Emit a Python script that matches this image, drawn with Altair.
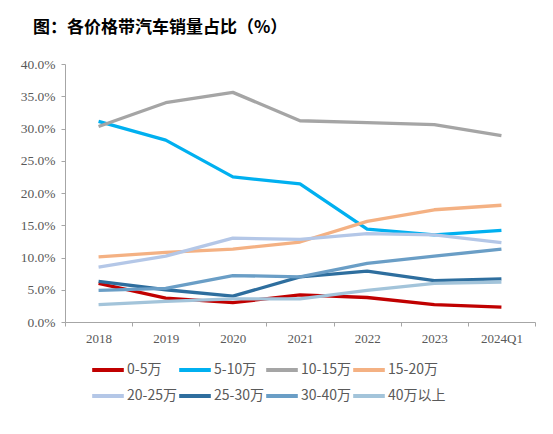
import altair as alt
import pandas as pd

years = ["2018", "2019", "2020", "2021", "2022", "2023", "2024Q1"]
series_names = ["0-5万", "5-10万", "10-15万", "15-20万", "20-25万", "25-30万", "30-40万", "40万以上"]
colors = ["#C00000", "#00B0F0", "#A5A5A5", "#F4B183", "#B4C7E7", "#2E6E9E", "#6A9EC6", "#A3C4DA"]

v_0_5 = [6.0, 3.7, 3.0, 4.2, 3.8, 2.7, 2.3]
v_5_10 = [31.1, 28.2, 22.5, 21.4, 14.4, 13.5, 14.2]
v_10_15 = [30.3, 34.0, 35.6, 31.2, 30.9, 30.6, 28.9]
v_15_20 = [10.1, 10.8, 11.3, 12.4, 15.6, 17.4, 18.1]
v_20_25 = [8.5, 10.2, 13.0, 12.8, 13.7, 13.5, 12.3]
v_25_30 = [6.3, 5.0, 4.0, 7.0, 7.9, 6.4, 6.7]
v_30_40 = [4.9, 5.2, 7.2, 7.0, 9.1, 10.2, 11.3]
v_40plus = [2.7, 3.2, 3.6, 3.6, 4.9, 6.0, 6.2]

all_values = [v_0_5, v_5_10, v_10_15, v_15_20, v_20_25, v_25_30, v_30_40, v_40plus]

rows = []
for name, vals in zip(series_names, all_values):
    for y, v in zip(years, vals):
        rows.append({"year": y, "series": name, "value": v / 100})
df = pd.DataFrame(rows)

chart = alt.Chart(df).mark_line(strokeWidth=3.3, strokeJoin="round").encode(
    x=alt.X("year:N", sort=years, bandPosition=0.5,
            scale=alt.Scale(type="band", paddingInner=0, paddingOuter=0),
            axis=alt.Axis(title=None, labelAngle=0, tickBand="extent", domainColor="#A6A6A6",
                          tickColor="#A6A6A6", tickSize=4, labelFont="Liberation Serif",
                          labelFontSize=13, labelColor="#595959", labelPadding=6, grid=False)),
    y=alt.Y("value:Q", scale=alt.Scale(domain=[0, 0.4], nice=False),
            axis=alt.Axis(title=None, format=".1%", values=[0, 0.05, 0.1, 0.15, 0.2, 0.25, 0.3, 0.35, 0.4],
                          domainColor="#A6A6A6", tickColor="#A6A6A6", tickSize=4,
                          labelFont="Liberation Serif", labelFontSize=13.5, labelColor="#595959",
                          labelPadding=6, grid=False)),
    color=alt.Color("series:N", sort=series_names,
                    scale=alt.Scale(domain=series_names, range=colors),
                    legend=alt.Legend(title=None, orient="none", legendX=25, legendY=288,
                                      direction="horizontal", columns=4, symbolType="stroke",
                                      symbolSize=1000, symbolStrokeWidth=4, labelOffset=1,
                                      labelFont="Noto Sans CJK SC", labelFontSize=14,
                                      labelColor="#595959", gridAlign="each", columnPadding=-12,
                                      rowPadding=0)),
).properties(
    width=470, height=258,
    title=alt.TitleParams("图：各价格带汽车销量占比（%）", anchor="start", frame="group", dx=-32, offset=20,
                          font="Noto Sans CJK SC", fontSize=17, fontWeight="bold", color="#000000"),
    autosize=alt.AutoSizeParams(type="none"),
    padding={"left": 57, "top": 56, "right": 10, "bottom": 100},
).configure_view(stroke=None)

chart.save("out.html", embed_options={"renderer": "svg", "actions": False})
